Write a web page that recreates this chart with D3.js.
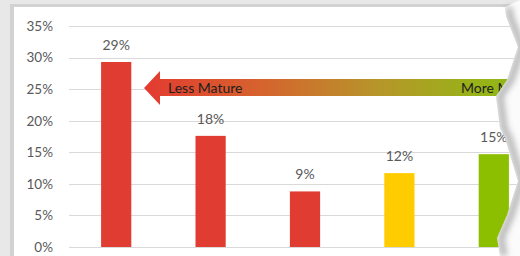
<!DOCTYPE html>
<html>
<head>
<meta charset="utf-8">
<script src="https://cdn.jsdelivr.net/npm/d3@7"></script>
<style>
  html, body { margin: 0; padding: 0; background: #fff; }
  svg { display: block; font-family: Lato, "Open Sans", sans-serif; }
</style>
</head>
<body>
<svg id="chart" width="520" height="256"></svg>
<script>
// maturity stages (axis labels are cut off in the picture)
var stages = ['Stage 1', 'Stage 2', 'Stage 3', 'Stage 4', 'Stage 5'];
var shares = [0.293, 0.176, 0.088, 0.117, 0.147];
var barColors = ['#e03c31', '#e03c31', '#e03c31', '#ffcc00', '#8cbf00'];
var yTicks = [0, 0.05, 0.10, 0.15, 0.20, 0.25, 0.30, 0.35];
var arrowLabels = ['Less Mature', 'More Mature'];

var svg = d3.select('#chart');
var W = 520, H = 256;

var x = d3.scaleBand().domain(stages).range([69, 541])
  .paddingInner(0.68).paddingOuter(0.34);
var y = d3.scaleLinear().domain([0, 0.35]).range([247, 26]);

var defs = svg.append('defs');

// torn right edge of the paper
var tear = [[505, 7], [506, 16], [518, 47], [507, 80], [496, 96], [500, 128],
  [505, 138], [518, 181], [507, 215], [497, 238], [500, 256]];
var paper = [[14, 7]].concat(tear).concat([[14, 256]]);

defs.append('clipPath').attr('id', 'paperClip')
  .append('polygon').attr('points', paper.map(function (p) { return p.join(','); }).join(' '));

var blur = defs.append('filter').attr('id', 'soft')
  .attr('x', '-50%').attr('y', '-10%').attr('width', '200%').attr('height', '120%');
blur.append('feGaussianBlur').attr('stdDeviation', 3);

var grad = defs.append('linearGradient').attr('id', 'arrowGrad')
  .attr('gradientUnits', 'userSpaceOnUse')
  .attr('x1', 150).attr('x2', 520).attr('y1', 0).attr('y2', 0);
grad.append('stop').attr('offset', '0%').attr('stop-color', '#e23d30');
grad.append('stop').attr('offset', '30%').attr('stop-color', '#d6632e');
grad.append('stop').attr('offset', '62%').attr('stop-color', '#b6962a');
grad.append('stop').attr('offset', '88%').attr('stop-color', '#98b218');
grad.append('stop').attr('offset', '100%').attr('stop-color', '#8fb816');

// frame behind the paper
var frame = svg.append('g');
frame.append('rect').attr('width', W).attr('height', H).attr('fill', '#e8e8e8');
frame.append('rect').attr('x', 10).attr('y', 4).attr('width', W).attr('height', H)
  .attr('fill', '#d2d2d2');
// page showing through the tear
frame.append('polygon')
  .attr('points', tear.map(function (p) { return p.join(','); }).join(' ') + ' 520,256 520,0')
  .attr('fill', '#fbfbfb');
frame.append('polyline')
  .attr('points', tear.map(function (p) { return (p[0] + 4) + ',' + p[1]; }).join(' '))
  .attr('fill', 'none').attr('stroke', '#8a8a8a').attr('stroke-width', 6)
  .attr('opacity', 0.7).attr('filter', 'url(#soft)');

var g = svg.append('g').attr('clip-path', 'url(#paperClip)');
g.append('rect').attr('x', 0).attr('y', 0).attr('width', W).attr('height', H).attr('fill', '#fff');

// grid lines
g.append('g').selectAll('line').data(yTicks).enter().append('line')
  .attr('x1', 69).attr('x2', 541)
  .attr('y1', function (d) { return Math.round(y(d)) + 0.5; })
  .attr('y2', function (d) { return Math.round(y(d)) + 0.5; })
  .attr('stroke', '#d9d9d9').attr('stroke-width', 1);

// y axis labels
var yAxis = d3.axisLeft(y).tickValues(yTicks).tickFormat(d3.format('.0%')).tickSize(0).tickPadding(0);
var ax = g.append('g').attr('transform', 'translate(53,0)').call(yAxis);
ax.select('.domain').remove();
ax.selectAll('text').attr('fill', '#595959').style('font-size', '13.5px')
  .style('font-family', 'Lato, "Open Sans", sans-serif');

// bars
g.append('g').selectAll('rect').data(shares).enter().append('rect')
  .attr('x', function (d, i) { return x(stages[i]); })
  .attr('y', function (d) { return y(d); })
  .attr('width', x.bandwidth())
  .attr('height', function (d) { return y(0) - y(d); })
  .attr('fill', function (d, i) { return barColors[i]; });

// value labels
g.append('g').selectAll('text').data(shares).enter().append('text')
  .attr('x', function (d, i) { return x(stages[i]) + x.bandwidth() / 2; })
  .attr('y', function (d) { return y(d) - 12; })
  .attr('text-anchor', 'middle')
  .attr('fill', '#595959').style('font-size', '14px')
  .text(function (d) { return d3.format('.0%')(d); });

// maturity arrow
var ay = 88;
g.append('path')
  .attr('d', 'M144,' + ay + ' L160,' + (ay - 17) + ' L160,' + (ay - 9) +
    ' L560,' + (ay - 9) + ' L560,' + (ay + 8) + ' L160,' + (ay + 8) +
    ' L160,' + (ay + 17) + ' Z')
  .attr('fill', 'url(#arrowGrad)');
g.append('text').attr('x', 168).attr('y', ay + 5)
  .attr('fill', '#1e1e1e').style('font-size', '14px').text(arrowLabels[0]);
g.append('text').attr('x', 461).attr('y', ay + 5)
  .attr('fill', '#1e1e1e').style('font-size', '14px').text(arrowLabels[1]);
</script>
</body>
</html>
